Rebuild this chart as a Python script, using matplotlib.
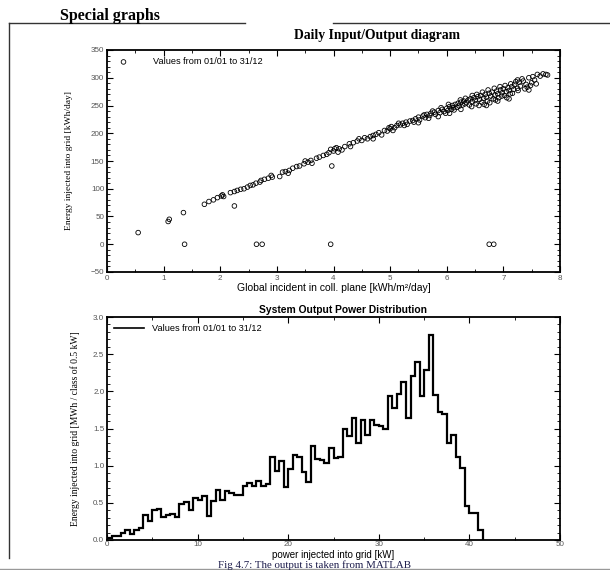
import numpy as np
import matplotlib
matplotlib.use("Agg")
import matplotlib.pyplot as plt
from matplotlib.lines import Line2D
from matplotlib.ticker import MultipleLocator

# daily input/output values
band_x = [1.72, 1.80, 1.88, 1.95, 2.02, 2.04, 2.06, 2.18, 2.25, 2.30, 2.36, 2.42, 2.48, 2.53,
          2.58, 2.63, 2.70, 2.72, 2.78, 2.85, 2.92, 3.05, 3.10, 3.15, 3.22, 3.28, 3.35, 3.40,
          3.48, 3.55, 3.60, 3.62, 3.70, 3.75, 3.82, 3.88, 3.92, 3.95, 4.00, 4.05, 4.10, 4.15,
          4.20, 4.28, 4.35, 4.42, 4.50, 4.55, 4.60, 4.65, 4.70, 4.75, 4.80, 4.85, 4.90, 4.95,
          5.00, 5.02, 5.08, 5.12, 5.18, 5.22, 5.28, 5.30, 5.35, 5.40, 5.45, 5.50, 5.52, 5.58,
          5.62, 5.65, 5.70, 5.72, 5.78, 5.80, 5.85, 5.88, 5.92, 5.95, 6.00, 6.02, 6.05, 6.08,
          6.10, 6.12, 6.15, 6.18, 6.20, 6.22, 6.25, 6.28, 6.30, 6.32, 6.35, 6.38, 6.40, 6.42,
          6.45, 6.48, 6.50, 6.52, 6.55, 6.58, 6.60, 6.62, 6.65, 6.68, 6.70, 6.72, 6.75, 6.78,
          6.80, 6.82, 6.85, 6.88, 6.90, 6.92, 6.95, 6.98, 7.00, 7.02, 7.05, 7.08, 7.10, 7.12,
          7.15, 7.18, 7.20, 7.25, 7.28, 7.30, 7.35, 7.40, 7.45, 7.50, 7.55, 7.60, 7.65, 7.70,
          7.75, 7.78,
          4.02, 4.08, 4.45, 4.98, 5.05, 5.15, 5.25, 5.42, 5.60, 5.68, 5.75, 5.90, 5.98, 6.03,
          6.13, 6.24, 6.33, 6.44, 6.53, 6.57, 6.63, 6.66, 6.73, 6.76, 6.84, 6.86, 6.94, 6.97,
          7.03, 7.06, 7.13, 7.16, 7.22, 7.26, 7.33, 7.38, 7.42, 7.48, 7.52, 7.58,
          5.50, 5.85, 6.05, 6.25, 6.45, 6.70, 6.90, 7.10, 7.25, 7.45, 4.30, 4.70, 3.50, 3.20,
          2.90]
band_y = [72, 77, 80, 84, 87, 89, 86, 93, 95, 97, 99, 100, 103, 106,
          107, 110, 112, 115, 117, 119, 121, 122, 130, 131, 133, 137, 140, 141,
          145, 148, 151, 146, 155, 157, 160, 162, 165, 171, 168, 174, 172, 170,
          176, 181, 183, 186, 187, 192, 190, 194, 196, 198, 201, 197, 205, 204,
          208, 212, 210, 214, 215, 218, 220, 216, 222, 223, 226, 229, 224, 231,
          228, 234, 232, 236, 238, 234, 241, 237, 243, 239, 245, 241, 248, 243,
          250, 246, 252, 247, 254, 249, 256, 251, 258, 253, 255, 260, 251, 262,
          257, 264, 259, 253, 266, 261, 268, 256, 263, 270, 265, 258, 272, 267,
          274, 262, 269, 276, 271, 264, 278, 273, 280, 268, 275, 282, 277, 271,
          284, 279, 288, 281, 292, 285, 294, 288, 300, 291, 296, 306, 303, 307,
          306, 305,
          172, 166, 190, 210, 205, 218, 214, 220, 233, 227, 240, 246, 236, 252,
          242, 260, 263, 248, 270, 250, 274, 252, 278, 255, 281, 260, 284, 267,
          286, 264, 289, 272, 293, 277, 298, 280, 283, 286, 302, 289,
          219, 230, 236, 243, 268, 250, 258, 262, 296, 278, 176, 190, 150, 128,
          124]
outlier_x = [0.55, 1.08, 1.10, 1.35, 1.37, 2.25, 2.64, 2.74, 3.95, 3.97, 6.75, 6.83]
outlier_y = [21, 41, 45, 57, 0, 69, 0, 0, 0, 141, 0, 0]

# power distribution, classes of 0.5 kW from 0 to 41.5 kW
class_width = 0.5
energy_mwh = [0.03, 0.05, 0.05, 0.09, 0.13, 0.08, 0.13, 0.16, 0.33, 0.26,
              0.40, 0.42, 0.31, 0.33, 0.35, 0.31, 0.48, 0.51, 0.40, 0.57,
              0.54, 0.59, 0.32, 0.53, 0.67, 0.54, 0.66, 0.63, 0.61, 0.61,
              0.72, 0.77, 0.73, 0.79, 0.73, 0.75, 1.12, 0.93, 1.06, 0.71,
              0.95, 1.14, 1.12, 0.91, 0.78, 1.27, 1.09, 1.07, 1.03, 1.24,
              1.10, 1.11, 1.50, 1.40, 1.64, 1.31, 1.61, 1.41, 1.61, 1.55,
              1.53, 1.50, 1.94, 1.77, 1.96, 2.13, 1.64, 2.20, 2.40, 1.94,
              2.29, 2.76, 1.95, 1.72, 1.70, 1.31, 1.41, 1.12, 0.97, 0.46,
              0.36, 0.36, 0.13]

SERIF = "Liberation Serif"
SANS = "Liberation Sans"
W, H = 610, 570


def fx(px):
    return px / W


def fy(py):
    return 1 - py / H


def style_axes(ax):
    for s in ax.spines.values():
        s.set_linewidth(1.3)
    ax.tick_params(which="both", direction="in", top=True, right=True,
                   labelsize=5.8, labelcolor="#555555", pad=2)
    ax.tick_params(which="major", length=4, width=0.8)
    ax.tick_params(which="minor", length=2, width=0.6)
    for lab in ax.get_xticklabels() + ax.get_yticklabels():
        lab.set_family(SANS)


fig = plt.figure(figsize=(W / 100, H / 100), dpi=100)

# page decoration
fig.text(fx(60), fy(16), "Special graphs", family=SERIF, fontweight="bold",
         fontsize=11.5, va="center")
fig.add_artist(Line2D([fx(9), fx(245)], [fy(22.5), fy(22.5)], color="#333333", lw=1))
fig.add_artist(Line2D([fx(333), fx(610)], [fy(22.5), fy(22.5)], color="#333333", lw=1))
fig.add_artist(Line2D([fx(9), fx(9)], [fy(22.5), fy(558)], color="#333333", lw=1))
fig.add_artist(Line2D([fx(0), fx(610)], [fy(569), fy(569)], color="#999999", lw=1))
fig.text(fx(314), fy(565.5), "Fig 4.7: The output is taken from MATLAB", family=SERIF,
         fontsize=7.8, ha="center", va="center", color="#1a1a4a")

# top: daily input/output
ax1 = fig.add_axes([fx(107), fy(272), fx(560) - fx(107), fy(50) - fy(272)])
ax1.scatter(band_x + outlier_x, band_y + outlier_y, s=11, facecolors="none",
            edgecolors="black", linewidths=0.6, label="Values from 01/01 to 31/12")
ax1.set_xlim(0, 8)
ax1.set_ylim(-50, 350)
ax1.xaxis.set_major_locator(MultipleLocator(1))
ax1.xaxis.set_minor_locator(MultipleLocator(0.5))
ax1.yaxis.set_major_locator(MultipleLocator(50))
ax1.yaxis.set_minor_locator(MultipleLocator(10))
style_axes(ax1)
ax1.set_title("Daily Input/Output diagram", family=SERIF, fontweight="bold",
              fontsize=9.8, x=0.595, pad=8)
ax1.set_xlabel("Global incident in coll. plane [kWh/m\u00b2/day]", family=SANS,
               fontsize=7.5, labelpad=1)
ax1.set_ylabel("Energy injected into grid [kWh/day]", family=SERIF, fontsize=6.8,
               labelpad=13)
ax1.legend(loc="upper left", frameon=False, prop={"family": SANS, "size": 6.6},
           handletextpad=2.2, borderaxespad=0.4)

# bottom: output power distribution
edges = np.arange(len(energy_mwh) + 1) * class_width
ax2 = fig.add_axes([fx(107), fy(540), fx(560) - fx(107), fy(317) - fy(540)])
ax2.stairs(energy_mwh, edges, baseline=0, color="black", lw=1.6,
           label="Values from 01/01 to 31/12")
ax2.set_xlim(0, 50)
ax2.set_ylim(0, 3.0)
ax2.xaxis.set_major_locator(MultipleLocator(10))
ax2.xaxis.set_minor_locator(MultipleLocator(5))
ax2.yaxis.set_major_locator(MultipleLocator(0.5))
ax2.yaxis.set_minor_locator(MultipleLocator(0.1))
ax2.yaxis.set_major_formatter(matplotlib.ticker.FormatStrFormatter("%.1f"))
style_axes(ax2)
ax2.tick_params(axis="x", which="both", pad=1)
ax2.set_title("System Output Power Distribution", family=SANS, fontweight="bold",
              fontsize=7.4, x=0.52, pad=3)
ax2.set_xlabel("power injected into grid [kW]", family=SANS, fontsize=7.0)
ax2.xaxis.set_label_coords(0.5, -0.044)
ax2.set_ylabel("Energy injected into grid [MWh / class of 0.5 kW]", family=SERIF,
               fontsize=6.9, labelpad=9)
leg = ax2.legend(loc="upper left", frameon=False, prop={"family": SANS, "size": 6.6},
                 handlelength=3.2, handletextpad=0.9, borderaxespad=0.4)
for ln in leg.get_lines():
    ln.set_linewidth(1.2)

fig.savefig("out.png", dpi=100)
